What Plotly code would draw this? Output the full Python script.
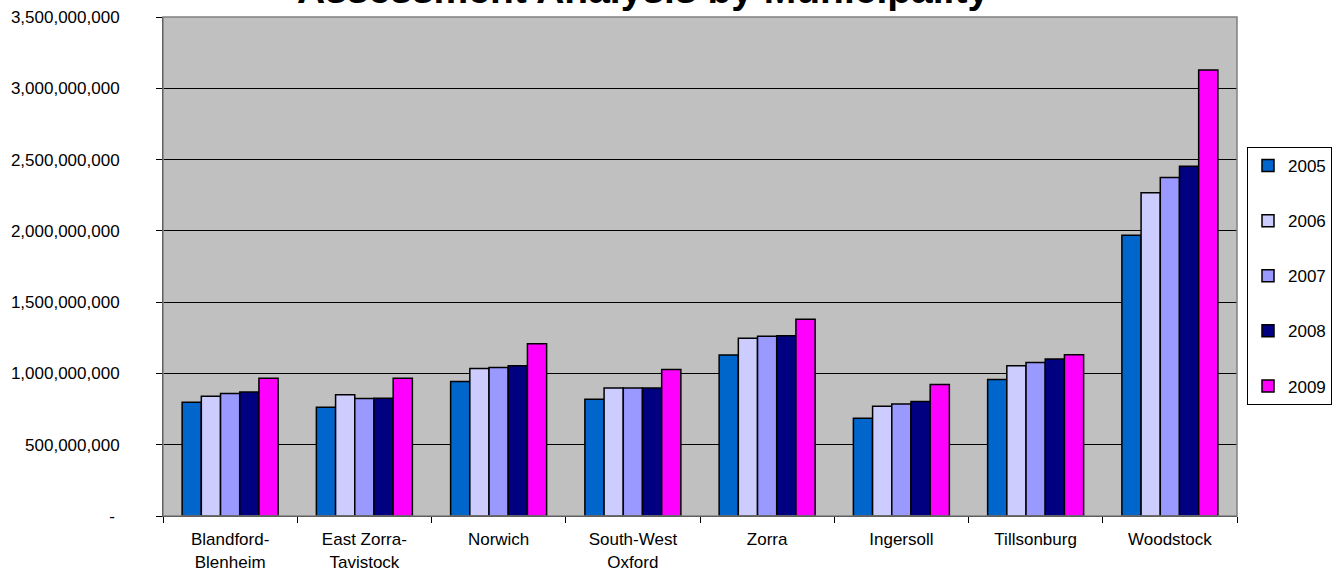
import plotly.graph_objects as go

categories = ["Blandford-<br>Blenheim", "East Zorra-<br>Tavistock", "Norwich", "South-West<br>Oxford",
              "Zorra", "Ingersoll", "Tillsonburg", "Woodstock"]
years = ["2005", "2006", "2007", "2008", "2009"]
v2005 = [798e6, 763e6, 944e6, 819e6, 1130e6, 685e6, 958e6, 1969e6]
v2006 = [840e6, 850e6, 1035e6, 897e6, 1247e6, 770e6, 1054e6, 2267e6]
v2007 = [859e6, 824e6, 1042e6, 897e6, 1261e6, 786e6, 1077e6, 2375e6]
v2008 = [869e6, 826e6, 1054e6, 897e6, 1264e6, 803e6, 1101e6, 2454e6]
v2009 = [967e6, 967e6, 1209e6, 1028e6, 1380e6, 923e6, 1131e6, 3128e6]
series = [v2005, v2006, v2007, v2008, v2009]
colors = ["#0066CC", "#CCCCFF", "#9999FF", "#000080", "#FF00FF"]
tick_vals = [0, 500e6, 1000e6, 1500e6, 2000e6, 2500e6, 3000e6, 3500e6]
tick_text = ["-\u00a0", "500,000,000", "1,000,000,000", "1,500,000,000", "2,000,000,000",
             "2,500,000,000", "3,000,000,000", "3,500,000,000"]
title = "Assessment Analysis by Municipality"

FONT = "Arial, Liberation Sans, sans-serif"
FS = 17

fig = go.Figure()
for yr, vals, col in zip(years, series, colors):
    fig.add_trace(go.Bar(
        name=yr, x=categories, y=vals, legendgroup=yr,
        marker=dict(color=col, line=dict(color="#000000", width=1.5)),
    ))

fig.update_layout(
    width=1333, height=571,
    margin=dict(l=163, r=96, t=17, b=55, autoexpand=False),
    paper_bgcolor="#FFFFFF", plot_bgcolor="#C0C0C0",
    barmode="group", bargap=0.285, bargroupgap=0,
    font=dict(family=FONT, size=FS, color="#000000"),
    showlegend=True,
    legend=dict(
        x=(1247 - 163) / 1074, y=(516 - 147) / 499, xanchor="left", yanchor="top",
        bgcolor="#FFFFFF", bordercolor="#000000", borderwidth=1,
        font=dict(family=FONT, size=FS, color="#000000"),
        traceorder="grouped", tracegroupgap=30, itemwidth=30,
    ),
    xaxis=dict(
        showline=True, linecolor="#000000", linewidth=1,
        ticks="outside", ticklen=6, tickcolor="#000000", tickson="boundaries",
        showgrid=False, tickfont=dict(size=FS), ticklabelstandoff=8, automargin=False,
    ),
    yaxis=dict(
        range=[0, 3500e6], tickvals=tick_vals, ticktext=tick_text,
        showline=True, linecolor="#000000", linewidth=1,
        ticks="outside", ticklen=6, tickcolor="#000000",
        showgrid=True, gridcolor="#000000", gridwidth=1,
        zeroline=False, tickfont=dict(size=FS), ticklabelstandoff=33, automargin=False,
    ),
    annotations=[dict(
        text="<b>" + title + "</b>", xref="paper", yref="paper",
        x=0.447, y=1, xanchor="center", yanchor="middle", yshift=28,
        showarrow=False, font=dict(family=FONT, size=39, color="#000000"),
    )],
    shapes=[dict(type="rect", xref="paper", yref="paper", x0=0, y0=0, x1=1, y1=1,
                 line=dict(color="#808080", width=1.5), fillcolor="rgba(0,0,0,0)", layer="above")],
)

fig.write_html("out.html", config={"displayModeBar": False},
               post_script="document.body.style.margin='0px';document.body.style.overflow='hidden';")
